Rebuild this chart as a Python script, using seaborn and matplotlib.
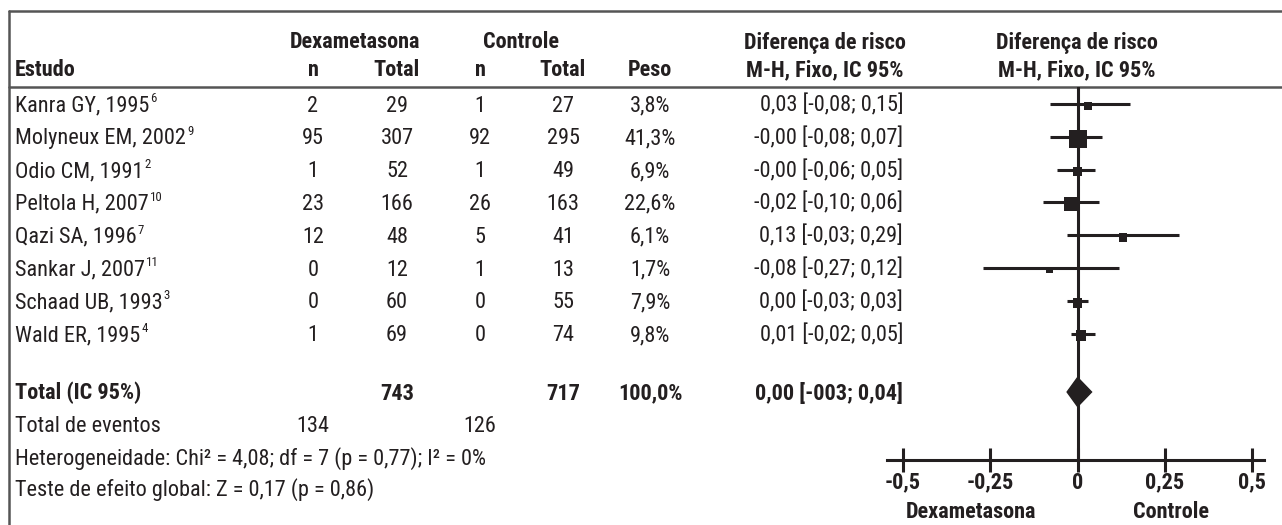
import matplotlib
matplotlib.use('Agg')
import matplotlib.pyplot as plt
from matplotlib import font_manager as fm
import seaborn as sns

# dados do forest plot
estudos = ['Kanra GY, 1995', 'Molyneux EM, 2002', 'Odio CM, 1991', 'Peltola H, 2007',
           'Qazi SA, 1996', 'Sankar J, 2007', 'Schaad UB, 1993', 'Wald ER, 1995']
refs = ['6', '9', '2', '10', '7', '11', '3', '4']
dex_n = [2, 95, 1, 23, 12, 0, 0, 1]
dex_total = [29, 307, 52, 166, 48, 12, 60, 69]
ctrl_n = [1, 92, 1, 26, 5, 1, 0, 0]
ctrl_total = [27, 295, 49, 163, 41, 13, 55, 74]
peso = [3.8, 41.3, 6.9, 22.6, 6.1, 1.7, 7.9, 9.8]
rd = [0.03, -0.00, -0.00, -0.02, 0.13, -0.08, 0.00, 0.01]
rd_lo = [-0.08, -0.08, -0.06, -0.10, -0.03, -0.27, -0.03, -0.02]
rd_hi = [0.15, 0.07, 0.05, 0.06, 0.29, 0.12, 0.03, 0.05]
rd_txt = ['0,03 [-0,08; 0,15]', '-0,00 [-0,08; 0,07]', '-0,00 [-0,06; 0,05]',
          '-0,02 [-0,10; 0,06]', '0,13 [-0,03; 0,29]', '-0,08 [-0,27; 0,12]',
          '0,00 [-0,03; 0,03]', '0,01 [-0,02; 0,05]']
total_dex, total_ctrl, total_peso = 743, 717, '100,0%'
eventos_dex, eventos_ctrl = 134, 126
total_rd, total_lo, total_hi = 0.00, -0.03, 0.04
total_txt = '0,00 [-003; 0,04]'
ticks = [-0.5, -0.25, 0, 0.25, 0.5]
tick_labels = ['-0,5', '-0,25', '0', '0,25', '0,5']

sns.set_theme(style='white')


def wnum(w):
    return w if isinstance(w, (int, float)) else fm.weight_dict.get(w, 400)


# fonte estreita com regular + bold estaticos
prefs = ['Roboto Condensed', 'PT Sans Narrow', 'Fira Sans Condensed',
         'IBM Plex Sans Condensed', 'Barlow Semi Condensed', 'Asap Condensed',
         'Liberation Sans Narrow']
fam, stretch = 'Roboto', 'normal'
for name in prefs:
    faces = [f for f in fm.fontManager.ttflist
             if f.name == name and f.style == 'normal' and '[' not in f.fname]
    ws = {wnum(f.weight) for f in faces}
    if 400 in ws and 700 in ws:
        fam = name
        stretch = [f.stretch for f in faces if wnum(f.weight) == 400][0]
        break
plt.rcParams['font.family'] = [fam, 'DejaVu Sans']
plt.rcParams['font.stretch'] = stretch

ink = '#231f20'
fs = 16

fig = plt.figure(figsize=(12.82, 5.25), dpi=100)
tab = fig.add_axes([0, 0, 1, 1])
tab.set_xlim(0, 1282)
tab.set_ylim(525, 0)
tab.axis('off')
rend = fig.canvas.get_renderer()

# moldura
tab.plot([9, 1282], [11, 11], color='#555555', lw=1.8)
tab.plot([9, 1282], [87, 87], color='#555555', lw=1.8)
tab.plot([9, 9], [11, 525], color='#555555', lw=1.8)


def txt(x, y, s, ha='center', bold=False):
    return tab.text(x, y + 7.5, s, ha=ha, va='baseline', fontsize=fs, color=ink,
                    fontweight='bold' if bold else 'normal')


def sup(x, y, base, s):
    t = txt(x, y, base, ha='left')
    bb = t.get_window_extent(rend)
    tab.text(bb.x1 + 1, y - 1.5, s, ha='left', va='baseline', fontsize=fs * 0.58, color=ink)


# cabecalho
txt(355, 41, 'Dexametasona', bold=True)
txt(521, 41, 'Controle', bold=True)
txt(825, 41, 'Diferença de risco', bold=True)
txt(1077, 41, 'Diferença de risco', bold=True)
txt(15, 69, 'Estudo', ha='left', bold=True)
for x, s in zip([313, 397, 480, 563, 650], ['n', 'Total', 'n', 'Total', 'Peso']):
    txt(x, 69, s, bold=True)
txt(825, 69, 'M-H, Fixo, IC 95%', bold=True)
txt(1077, 69, 'M-H, Fixo, IC 95%', bold=True)

row_y = [104 + 32.8 * i for i in range(len(estudos))]
for i, y in enumerate(row_y):
    sup(15, y, estudos[i], refs[i])
    txt(313, y, str(dex_n[i]))
    txt(397, y, str(dex_total[i]))
    txt(480, y, str(ctrl_n[i]))
    txt(563, y, str(ctrl_total[i]))
    txt(650, y, f'{peso[i]:.1f}%'.replace('.', ','))
    txt(903, y, rd_txt[i], ha='right')

y_tot = 392
txt(15, y_tot, 'Total (IC 95%)', ha='left', bold=True)
txt(397, y_tot, str(total_dex), bold=True)
txt(563, y_tot, str(total_ctrl), bold=True)
txt(650, y_tot, total_peso, bold=True)
txt(903, y_tot, total_txt, ha='right', bold=True)
txt(15, 425, 'Total de eventos', ha='left')
txt(313, 425, str(eventos_dex))
txt(480, 425, str(eventos_ctrl))
txt(15, 457, 'Heterogeneidade: Chi² = 4,08; df = 7 (p = 0,77); I² = 0%', ha='left')
txt(15, 488, 'Teste de efeito global: Z = 0,17 (p = 0,86)', ha='left')
txt(971, 510, 'Dexametasona', bold=True)
txt(1171, 510, 'Controle', bold=True)

# forest plot
W, H = 1282, 525
ax = fig.add_axes([887 / W, 1 - 460 / H, (1264 - 887) / W, (460 - 87) / H])
ax.patch.set_visible(False)
ax.set_xlim(-0.546, 0.534)
ax.set_ylim(460, 87)
for s in ['top', 'left', 'right']:
    ax.spines[s].set_visible(False)
ax.spines['bottom'].set_color(ink)
ax.spines['bottom'].set_linewidth(2.2)
ax.axvline(0, color=ink, lw=2.2, zorder=1)
ax.hlines(row_y, rd_lo, rd_hi, color=ink, lw=2.2, zorder=2)
sns.scatterplot(x=rd, y=[y + 2 for y in row_y], size=peso, sizes=(25, 168),
                marker='s', color=ink, linewidth=0, legend=False, ax=ax, zorder=3)
h = 14.5
ax.fill([total_lo, total_rd, total_hi, total_rd], [y_tot, y_tot - h, y_tot, y_tot + h],
        color=ink, zorder=3)
ax.set_yticks([])
ax.set_xticks(ticks)
ax.set_xticklabels(tick_labels, fontweight='bold', fontsize=fs, color=ink)
ax.tick_params(axis='x', direction='inout', length=17, width=2.2, color=ink, pad=0, bottom=True)
ax.set_xlabel('')
ax.set_ylabel('')

fig.savefig('out.png', dpi=100)
